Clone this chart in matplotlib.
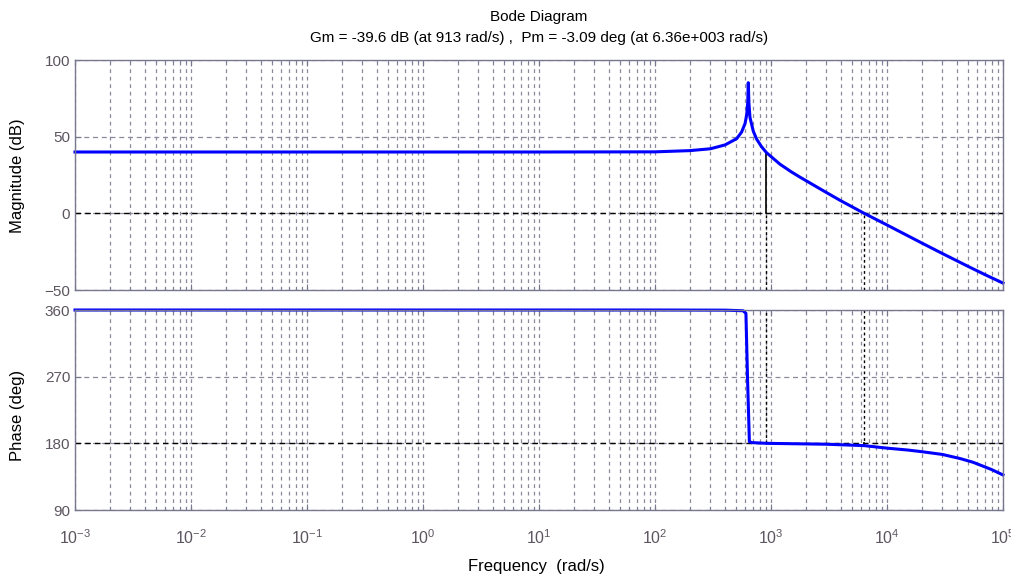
"""Bode plot with gain and phase margins marked."""
import numpy as np
import matplotlib
matplotlib.use('Agg')
import matplotlib.pyplot as plt
from matplotlib.ticker import LogLocator, NullFormatter, FixedLocator

plt.rcParams['font.family'] = ['Liberation Sans', 'DejaVu Sans']
plt.rcParams['mathtext.fontset'] = 'custom'
plt.rcParams['mathtext.rm'] = 'Liberation Sans'
plt.rcParams['mathtext.default'] = 'regular'

# margins
gm_db = -39.6
w_gm = 913
pm_deg = -3.09
w_pm = 6360

# magnitude response (rad/s, dB)
mag_w = [1e-3, 1e-1, 10, 100, 200, 300, 401, 506, 558, 597, 617, 630, 637,
         645, 659, 704, 752, 830, 913, 1197, 1500, 1778, 2643, 3934, 6360,
         1e4, 2e4, 3e4, 5e4, 7e4, 1e5]
mag_db = [40, 40, 40, 40.1, 40.9, 42.1, 44.6, 48.7, 53.0, 58.5, 64.1, 72.0, 85.2,
          72.0, 62.5, 53.5, 48.4, 43.4, 39.6, 32.0, 27.0, 23.6, 16.0, 8.5, 0.0,
          -7.6, -19.4, -26.2, -34.6, -40.0, -45.5]

# phase response (rad/s, deg)
ph_w = [1e-3, 1e-1, 10, 100, 400, 574, 608, 627, 651, 685, 913, 2980,
        6360, 1e4, 1.5e4, 2e4, 3e4, 4.26e4, 5.5e4, 6.33e4, 8e4, 1e5]
ph_deg = [360, 360, 360, 360, 359.8, 359, 355.5, 270, 182.2, 181, 180,
          178.8, 176.91, 173.5, 171.0, 168.7, 165.0, 159.5, 154.5, 150.8, 144.5, 137.3]

decades = [-3, -2, -1, 0, 1, 2, 3, 4, 5]

spine_col = '#77778f'
tick_col = '#5c5560'
grid_col = '#8a8a9c'

fig = plt.figure(figsize=(10.12, 5.77), dpi=100)
ax_mag = fig.add_axes([75 / 1012, 287 / 577, 928 / 1012, 230 / 577])
ax_ph = fig.add_axes([75 / 1012, 67 / 577, 928 / 1012, 200 / 577])

for ax in (ax_mag, ax_ph):
    ax.set_xscale('log')
    ax.set_xlim(1e-3, 1e5)
    ax.xaxis.set_major_locator(FixedLocator([10.0 ** d for d in decades]))
    ax.xaxis.set_minor_locator(LogLocator(base=10, subs=range(2, 10), numticks=20))
    ax.xaxis.set_minor_formatter(NullFormatter())
    ax.grid(True, which='both', axis='x', color=grid_col, linestyle=(0, (3, 3)), linewidth=0.9)
    ax.grid(True, which='major', axis='y', color=grid_col, linestyle=(0, (4, 3)), linewidth=0.9)
    ax.tick_params(which='both', direction='in', top=True, right=True,
                   color=spine_col, labelcolor=tick_col, labelsize=11)
    ax.tick_params(which='major', length=4)
    ax.tick_params(which='minor', length=2.5)
    for s in ax.spines.values():
        s.set_color(spine_col)
        s.set_linewidth(1.0)
    ax.set_axisbelow(True)

# magnitude
ax_mag.set_ylim(-50, 100)
ax_mag.set_yticks([-50, 0, 50, 100])
ax_mag.set_xticklabels([])
ax_mag.axhline(0, color='k', linestyle=(0, (4, 3)), linewidth=1.0)
ax_mag.plot([w_gm, w_gm], [-50, 0], color='k', linestyle=(0, (2, 2)), linewidth=1.0)
ax_mag.plot([w_pm, w_pm], [-50, 0], color='k', linestyle=(0, (2, 2)), linewidth=1.0)
ax_mag.plot([w_gm, w_gm], [0, -gm_db], color='k', linewidth=1.2)
ax_mag.plot(mag_w, mag_db, color='#0000ff', linewidth=2.2, clip_on=False)

# phase
ax_ph.set_ylim(90, 360)
ax_ph.set_yticks([90, 180, 270, 360])
ax_ph.set_xticklabels(['$10^{%d}$' % d for d in decades])
ax_ph.axhline(180, color='k', linestyle=(0, (4, 3)), linewidth=1.0)
ax_ph.plot([w_gm, w_gm], [180, 360], color='k', linestyle=(0, (2, 2)), linewidth=1.0)
ax_ph.plot([w_pm, w_pm], [180 + pm_deg, 360], color='k', linestyle=(0, (2, 2)), linewidth=1.0)
ax_ph.plot([w_pm, w_pm], [180, 180 + pm_deg], color='k', linewidth=1.2)
ax_ph.plot(ph_w, ph_deg, color='#0000ff', linewidth=2.2, clip_on=False)
ax_ph.tick_params(axis='x', pad=13, labelsize=11.5)

fig.text(539 / 1012, 1 - 17 / 577, 'Bode Diagram', ha='center', va='center', fontsize=11)
fig.text(539 / 1012, 1 - 38 / 577,
         'Gm = %.1f dB (at %d rad/s) ,  Pm = %.2f deg (at 6.36e+003 rad/s)' % (gm_db, w_gm, pm_deg),
         ha='center', va='center', fontsize=11)
fig.text(18 / 1012, 1 - 176 / 577, 'Magnitude (dB)', rotation=90, ha='center', va='center', fontsize=12)
fig.text(18 / 1012, 1 - 415 / 577, 'Phase (deg)', rotation=90, ha='center', va='center', fontsize=12)
fig.text(536 / 1012, 1 - 566 / 577, 'Frequency  (rad/s)', ha='center', va='center', fontsize=12)

fig.savefig('out.png', dpi=100)
